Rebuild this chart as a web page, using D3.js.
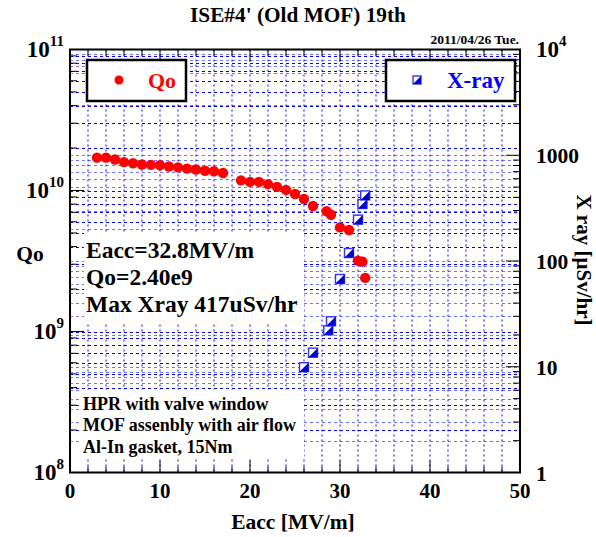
<!DOCTYPE html>
<html><head><meta charset="utf-8">
<script src="https://cdn.jsdelivr.net/npm/d3@7/dist/d3.min.js"></script>
<style>
body{margin:0;background:#fff}
text{font-family:"Liberation Serif","Times New Roman",serif;font-weight:bold}
</style>
</head><body>
<svg id="c" width="596" height="537"></svg>
<script>
// ---- data ----
const eacc = [3,4,5,6,7,8,9,10,11,12,13,14,15,16,17,19,20,21,22,23,24,25,26,27,28.5,29,30,31,32,32.5,32.8];
const qo   = [1.71e10,1.71e10,1.66e10,1.59e10,1.56e10,1.53e10,1.52e10,1.51e10,1.48e10,1.46e10,1.43e10,1.41e10,1.38e10,1.37e10,1.33e10,
              1.18e10,1.15e10,1.15e10,1.11e10,1.06e10,1.01e10,9.45e9,8.71e9,7.77e9,7.12e9,6.73e9,5.48e9,5.25e9,3.18e9,3.13e9,2.40e9];
const xrayE    = [26,27,28.7,29,30,31,32,32.5,32.8];
const xrayDose = [9.9,13.6,22.1,26.9,67.6,119,246,346,417];
const xTickLabels = [0,10,20,30,40,50];
const qoDecades = [8,9,10,11];
const xrayTickLabels = ["1","10","100","1000"];
const title = "ISE#4' (Old MOF) 19th";
const dateText = "2011/04/26 Tue.";
const infoLines = ["Eacc=32.8MV/m","Qo=2.40e9","Max Xray 417uSv/hr"];
const noteLines = ["HPR with valve window","MOF assenbly with air flow","Al-In gasket, 15Nm"];

// ---- layout ----
const L=70, R=520, T=49.5, B=472.5;
const svg = d3.select("#c");
const x = d3.scaleLinear().domain([0,50]).range([L,R]);
const yL = d3.scaleLog().domain([1e8,1e11]).range([B,T]);
const yR = d3.scaleLog().domain([1,1e4]).range([B,T]);
const blue = "#0000ff";

// grid
const g = svg.append("g");
const xGrid = d3.range(2,50,2);
g.selectAll(".vg").data(xGrid).join("line")
  .attr("x1",d=>x(d)).attr("x2",d=>x(d)).attr("y1",T).attr("y2",B)
  .attr("stroke",blue).attr("stroke-width",1).attr("stroke-dasharray","2,3");
g.selectAll(".hgl").data(yL.ticks().filter(d=>d>1e8&&d<1e11)).join("line")
  .attr("x1",L).attr("x2",R).attr("y1",d=>Math.round(yL(d))+0.5).attr("y2",d=>Math.round(yL(d))+0.5)
  .attr("stroke",blue).attr("stroke-width",1).attr("stroke-dasharray","3,3");
g.selectAll(".hgr").data(yR.ticks().filter(d=>d>1&&d<1e4)).join("line")
  .attr("x1",L).attr("x2",R).attr("y1",d=>Math.round(yR(d))+0.5).attr("y2",d=>Math.round(yR(d))+0.5)
  .attr("stroke",blue).attr("stroke-opacity",0.55).attr("stroke-width",1).attr("stroke-dasharray","3,3");

// ticks
const tk = svg.append("g").attr("stroke","#000").attr("stroke-width",1);
d3.range(0,51,2).forEach(d=>{
  const len = d%10===0?12:6;
  tk.append("line").attr("x1",x(d)).attr("x2",x(d)).attr("y1",B).attr("y2",B-len);
  tk.append("line").attr("x1",x(d)).attr("x2",x(d)).attr("y1",T).attr("y2",T+len);
});
yL.ticks().forEach(d=>{
  const major = Math.abs(Math.log10(d)-Math.round(Math.log10(d)))<1e-9;
  const len = major?14:7;
  tk.append("line").attr("x1",L).attr("x2",L+len).attr("y1",yL(d)).attr("y2",yL(d));
});
yR.ticks().forEach(d=>{
  const major = Math.abs(Math.log10(d)-Math.round(Math.log10(d)))<1e-9;
  const len = major?14:7;
  tk.append("line").attr("x1",R).attr("x2",R-len).attr("y1",yR(d)).attr("y2",yR(d));
});

// info boxes (white, hide grid)
svg.append("rect").attr("x",84).attr("y",233).attr("width",220).attr("height",91).attr("fill","#fff");
infoLines.forEach((t,i)=>svg.append("text").attr("x",86).attr("y",258+i*27).attr("font-size",23.5).text(t));
svg.append("rect").attr("x",80).attr("y",390).attr("width",224).attr("height",68).attr("fill","#fff");
noteLines.forEach((t,i)=>svg.append("text").attr("x",83).attr("y",410+i*21.3).attr("font-size",18).text(t));

// frame
svg.append("rect").attr("x",L).attr("y",T).attr("width",R-L).attr("height",B-T)
  .attr("fill","none").attr("stroke","#000").attr("stroke-width",2);

// Qo points
svg.append("g").selectAll("circle").data(eacc.map((e,i)=>[e,qo[i]])).join("circle")
  .attr("cx",d=>x(d[0])).attr("cy",d=>yL(d[1])).attr("r",5.2).attr("fill","#ff0000");

// X-ray markers
function xrMarker(sel,cx,cy,s){
  const h=s/2;
  sel.append("rect").attr("x",cx-h).attr("y",cy-h).attr("width",s).attr("height",s)
    .attr("fill","#fff").attr("stroke","#3333ff").attr("stroke-width",1.4);
  sel.append("path").attr("d",`M${cx-h},${cy+h}L${cx+h},${cy-h}L${cx+h},${cy+h}Z`).attr("fill","#0000cc");
}
const xm = svg.append("g");
xrayE.forEach((e,i)=>xrMarker(xm,x(e),yR(xrayDose[i]),9));

// legends
svg.append("rect").attr("x",87).attr("y",60).attr("width",99).attr("height",41)
  .attr("fill","#fff").attr("stroke","#000").attr("stroke-width",2.5);
svg.append("circle").attr("cx",119).attr("cy",80).attr("r",4.5).attr("fill","#ff0000");
svg.append("text").attr("x",148).attr("y",88).attr("font-size",22).attr("fill","#ff0000").text("Qo");
svg.append("rect").attr("x",386).attr("y",60).attr("width",129).attr("height",41)
  .attr("fill","#fff").attr("stroke","#000").attr("stroke-width",2.5);
xrMarker(svg.append("g"),417,80,8);
svg.append("text").attr("x",447).attr("y",88).attr("font-size",23).attr("fill","#0000ff").text("X-ray");

// axis labels
svg.append("g").selectAll("text").data(xTickLabels).join("text")
  .attr("x",d=>x(d)).attr("y",498).attr("text-anchor","middle").attr("font-size",21).text(d=>d);
qoDecades.forEach(p=>{
  const t = svg.append("text").attr("x",64).attr("y",yL(Math.pow(10,p))+7).attr("text-anchor","end").attr("font-size",23);
  t.append("tspan").text("10");
  t.append("tspan").attr("dy",-11).attr("font-size",15).text(p);
});
xrayTickLabels.forEach((s,i)=>{
  svg.append("text").attr("x",536).attr("y",yR(Math.pow(10,i))+8).attr("font-size",21.5).text(s);
});
{
  const t = svg.append("text").attr("x",536).attr("y",yR(1e4)+7).attr("font-size",23);
  t.append("tspan").text("10");
  t.append("tspan").attr("dy",-11).attr("font-size",15).text("4");
}
svg.append("text").attr("x",293).attr("y",529).attr("text-anchor","middle").attr("font-size",21.5).text("Eacc [MV/m]");
svg.append("text").attr("x",30).attr("y",261).attr("text-anchor","middle").attr("font-size",21.5).text("Qo");
svg.append("text").attr("transform","translate(577,260) rotate(90)").attr("text-anchor","middle").attr("font-size",21).text("X ray [µSv/hr]");
svg.append("text").attr("x",298).attr("y",22).attr("text-anchor","middle").attr("font-size",21.3).text(title);
svg.append("text").attr("x",519).attr("y",44).attr("text-anchor","end").attr("font-size",13.5).text(dateText);
</script>
</body></html>
